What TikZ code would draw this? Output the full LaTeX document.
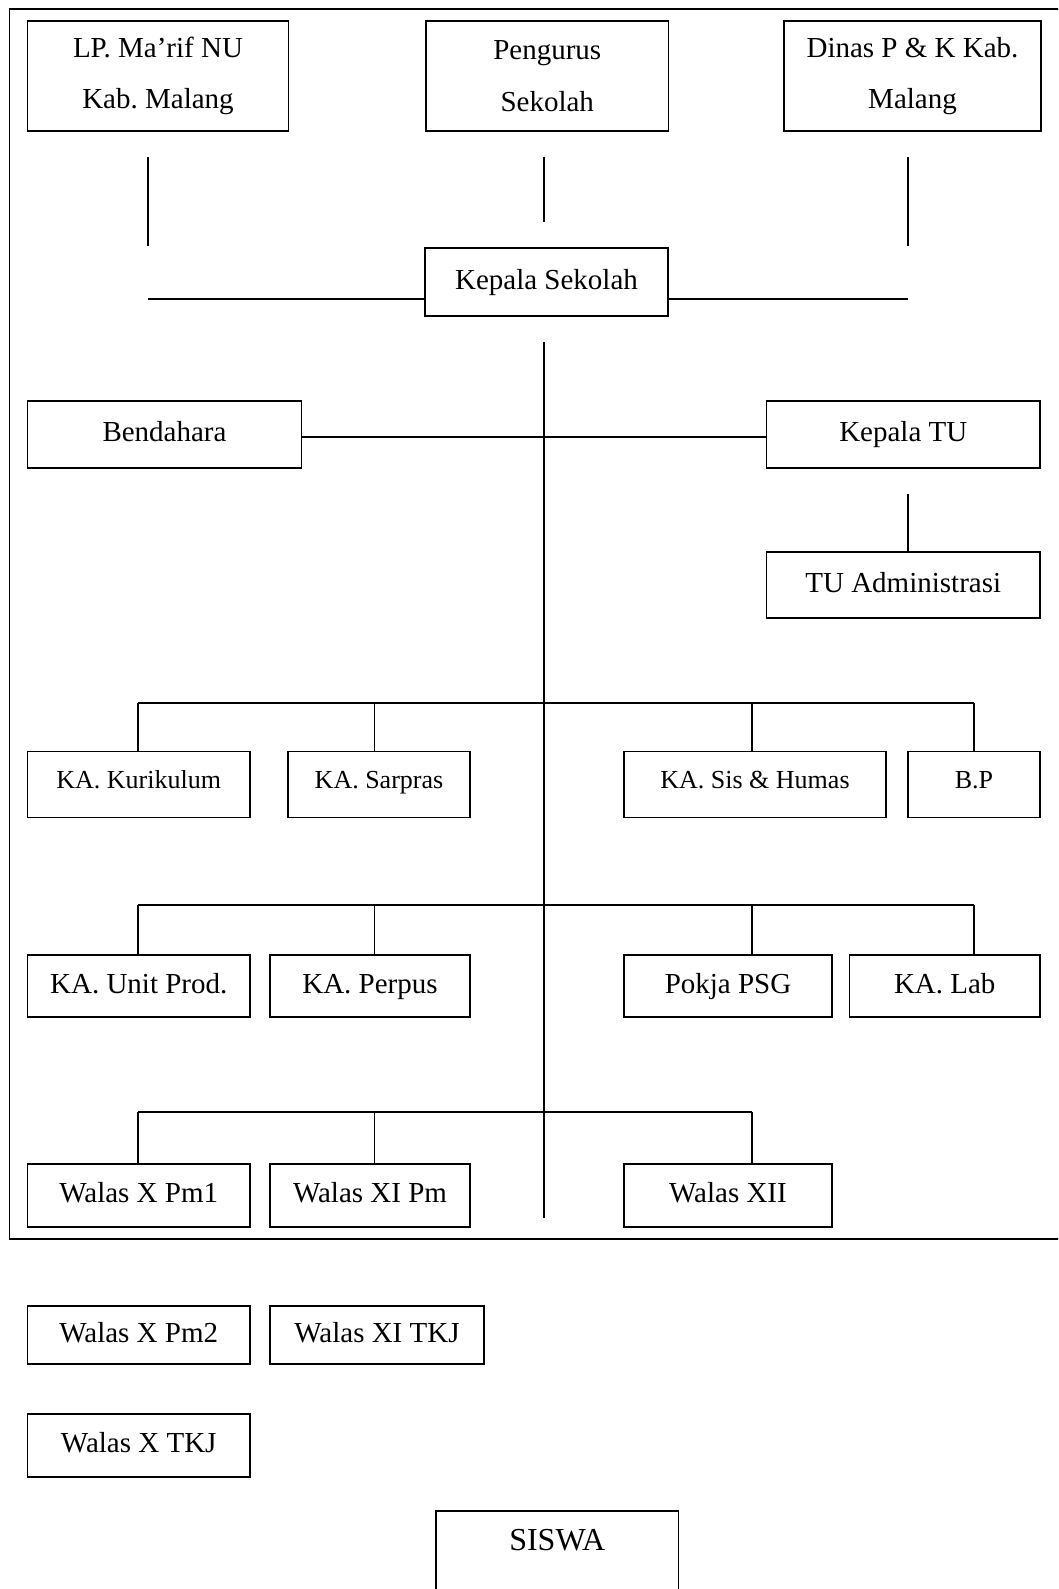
\documentclass[tikz,border=0pt]{standalone}
\usepackage{fontspec}
\setmainfont{Liberation Serif}
\usetikzlibrary{calc}
\frenchspacing

\begin{document}
\begin{tikzpicture}[x=1pt, y=-1pt,
    box/.style={draw, line width=1.4pt, inner sep=0pt, font=\fontsize{29}{35}\selectfont, text height=20pt, text depth=6pt},
    smallbox/.style={box, font=\fontsize{26}{31}\selectfont, text height=18pt, text depth=10pt},
    twoline/.style={draw, line width=1.4pt, inner sep=0pt, align=center, font=\fontsize{29}{51.5}\selectfont},
    link/.style={line width=1.3pt}]

    % Page size and clipping
    \useasboundingbox (0,0) rectangle (1058,1589);
    \clip (0,0) rectangle (1058,1589);

    % Outer frame (open on the right)
    \draw[line width=1.4pt] (1070,9) -- (9.5,9) -- (9.5,1239) -- (1070,1239);

    % Top boxes
    \node[twoline, minimum width=261pt, minimum height=110pt] (lpmaarif) at (158,76) {LP. Ma’rif NU\\Kab. Malang};
    \node[twoline, minimum width=242.5pt, minimum height=110pt] (pengurus) at (547.25,76) {Pengurus\\Sekolah};
    \node[twoline, minimum width=257pt, minimum height=110pt] (dinas) at (912.5,76) {Dinas P \& K Kab.\\Malang};

    % Head of school, treasurer, admin
    \node[box, minimum width=243pt, minimum height=68pt] (kepsek) at (546.5,282) {Kepala Sekolah};
    \node[box, minimum width=274pt, minimum height=67pt] (bendahara) at (164.5,434.5) {Bendahara};
    \node[box, minimum width=273.5pt, minimum height=67pt] (kepTU) at (903.25,434.5) {Kepala TU};
    \node[box, minimum width=273.5pt, minimum height=66pt] (tuadm) at (903.25,585) {TU Administrasi};

    % First row of heads
    \node[smallbox, minimum width=222.5pt, minimum height=66pt] (kurikulum) at (138.75,784.5) {KA. Kurikulum};
    \node[smallbox, minimum width=182pt, minimum height=66pt] (sarpras) at (379,784.5) {KA. Sarpras};
    \node[smallbox, minimum width=262pt, minimum height=66pt] (humas) at (755,784.5) {KA. Sis \& Humas};
    \node[smallbox, minimum width=132pt, minimum height=66pt] (bp) at (974,784.5) {B.P};

    % Second row of heads
    \node[box, minimum width=222.5pt, minimum height=62pt] (unitprod) at (138.75,986) {KA. Unit Prod.};
    \node[box, minimum width=200pt, minimum height=62pt] (perpus) at (370,986) {KA. Perpus};
    \node[box, minimum width=208pt, minimum height=62pt] (pokja) at (728,986) {Pokja PSG};
    \node[box, minimum width=190.5pt, minimum height=62pt] (lab) at (944.75,986) {KA. Lab};

    % Class teachers
    \node[box, minimum width=222.5pt, minimum height=63pt] (walasXa) at (138.75,1195.5) {Walas X Pm1};
    \node[box, minimum width=200pt, minimum height=63pt] (walasXIa) at (370,1195.5) {Walas XI Pm};
    \node[box, minimum width=208pt, minimum height=63pt] (walasXII) at (728,1195.5) {Walas XII};
    \node[box, minimum width=222.5pt, minimum height=58pt] (walasXb) at (138.75,1335) {Walas X Pm2};
    \node[box, minimum width=214pt, minimum height=58pt] (walasXIb) at (377,1335) {Walas XI TKJ};
    \node[box, minimum width=222.5pt, minimum height=63pt] (walasXc) at (138.75,1445.5) {Walas X TKJ};

    % Students (runs off the page)
    \node[box, font=\fontsize{32}{38}\selectfont, text height=39.7pt, text depth=80pt, minimum width=242.6pt, anchor=base] (siswa) at (557.3,1550.7) {SISWA};

    % Define coordinates
    \coordinate (lpTop) at (148,157);
    \coordinate (lpBot) at (148,246);
    \coordinate (pgTop) at (544,157);
    \coordinate (pgBot) at (544,222);
    \coordinate (dnTop) at (908,157);
    \coordinate (dnBot) at (908,246);
    \coordinate (hubL) at (148,299);
    \coordinate (hubR) at (908,299);
    \coordinate (hubM) at (544,437);
    \coordinate (trunkTop) at (544,342);
    \coordinate (trunkBot) at (544,1218);
    \coordinate (tuTop) at (908,494);
    \coordinate (b1) at (138,703);
    \coordinate (b2) at (374.5,703);
    \coordinate (b3) at (752,703);
    \coordinate (b4) at (974,703);
    \coordinate (c1) at (138,905);
    \coordinate (c2) at (374.5,905);
    \coordinate (c3) at (752,905);
    \coordinate (c4) at (974,905);
    \coordinate (d1) at (138,1112);
    \coordinate (d2) at (374.5,1112);
    \coordinate (d3) at (752,1112);

    % Lines below the top boxes
    \draw[link] (lpTop) -- (lpBot);
    \draw[link] (pgTop) -- (pgBot);
    \draw[link] (dnTop) -- (dnBot);
    \draw[link] (hubL) -- (hubL -| kepsek.west);
    \draw[link] (kepsek.east |- hubR) -- (hubR);

    % Main trunk and side branches
    \draw[link] (trunkTop) -- (trunkBot);
    \draw[link] (hubM -| bendahara.east) -- (hubM -| kepTU.west);
    \draw[link] (tuTop) -- (tuTop |- tuadm.north);

    % First bus
    \draw[link] (b1) -- (b4);
    \draw[link] (b1) -- (b1 |- kurikulum.north);
    \draw[link] (b2) -- (b2 |- sarpras.north);
    \draw[link] (b3) -- (b3 |- humas.north);
    \draw[link] (b4) -- (b4 |- bp.north);

    % Second bus
    \draw[link] (c1) -- (c4);
    \draw[link] (c1) -- (c1 |- unitprod.north);
    \draw[link] (c2) -- (c2 |- perpus.north);
    \draw[link] (c3) -- (c3 |- pokja.north);
    \draw[link] (c4) -- (c4 |- lab.north);

    % Third bus
    \draw[link] (d1) -- (d3);
    \draw[link] (d1) -- (d1 |- walasXa.north);
    \draw[link] (d2) -- (d2 |- walasXIa.north);
    \draw[link] (d3) -- (d3 |- walasXII.north);

\end{tikzpicture}
\end{document}
